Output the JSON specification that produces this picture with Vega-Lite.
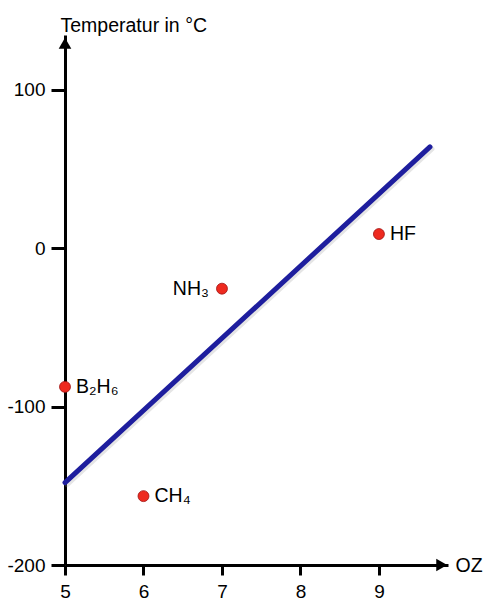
{
  "$schema": "https://vega.github.io/schema/vega-lite/v6.json",
  "width": 383,
  "height": 530,
  "autosize": "none",
  "padding": {"left": 65, "top": 35, "right": 52, "bottom": 42},
  "config": {
    "font": "Liberation Sans",
    "view": {"stroke": null},
    "axis": {"grid": false}
  },
  "datasets": {
    "points": [
      {"x": 5, "y": -87.5, "label": "B₂H₆", "side": "right"},
      {"x": 6, "y": -156.5, "label": "CH₄", "side": "right"},
      {"x": 7, "y": -25.5, "label": "NH₃", "side": "left"},
      {"x": 9, "y": 9, "label": "HF", "side": "right"}
    ],
    "trend": [
      {"x": 5, "y": -148},
      {"x": 9.65, "y": 64}
    ],
    "arrowX": [{"x": 9.8, "y": -200}],
    "arrowY": [{"x": 5, "y": 129.5}]
  },
  "encoding": {
    "x": {
      "field": "x",
      "type": "quantitative",
      "scale": {"domain": [5, 9.88], "nice": false, "zero": false},
      "axis": {
        "values": [5, 6, 7, 8, 9],
        "labelExpr": "toString(datum.value)",
        "labelFlush": false,
        "title": "OZ",
        "titleFontSize": 19.5,
        "titleFontWeight": "normal",
        "titleColor": "#000",
        "titleAlign": "left",
        "titleBaseline": "middle",
        "titleX": 390,
        "titleY": 0,
        "domainColor": "#000",
        "domainWidth": 3,
        "tickColor": "#000",
        "tickWidth": 3,
        "tickSize": 10,
        "labelFontSize": 19,
        "labelColor": "#000",
        "labelPadding": 7
      }
    },
    "y": {
      "field": "y",
      "type": "quantitative",
      "scale": {"domain": [-200, 134.7], "nice": false, "zero": false},
      "axis": {
        "values": [100, 0, -100, -200],
        "labelExpr": "toString(datum.value)",
        "labelFlush": false,
        "title": "Temperatur in °C",
        "titleFontSize": 19.5,
        "titleFontWeight": "normal",
        "titleColor": "#000",
        "titleAngle": 0,
        "titleAlign": "left",
        "titleBaseline": "alphabetic",
        "titleX": -5,
        "titleY": -4,
        "domainColor": "#000",
        "domainWidth": 3,
        "tickColor": "#000",
        "tickWidth": 3,
        "tickSize": 14,
        "labelFontSize": 19,
        "labelColor": "#000",
        "labelPadding": 6
      }
    }
  },
  "layer": [
    {
      "data": {"name": "arrowX"},
      "mark": {"type": "point", "shape": "triangle-right", "filled": true, "color": "#000", "size": 160, "opacity": 1}
    },
    {
      "data": {"name": "arrowY"},
      "mark": {"type": "point", "shape": "triangle-up", "filled": true, "color": "#000", "size": 160, "opacity": 1}
    },
    {
      "data": {"name": "trend"},
      "mark": {"type": "line", "color": "#999", "strokeWidth": 5, "opacity": 0.25, "xOffset": 2, "yOffset": 2, "strokeCap": "round"}
    },
    {
      "data": {"name": "trend"},
      "mark": {"type": "line", "color": "#1e1e9e", "strokeWidth": 5, "strokeCap": "round"}
    },
    {
      "data": {"name": "points"},
      "mark": {"type": "point", "shape": "circle", "filled": true, "fill": "#ee2a1f", "stroke": "#a01010", "strokeWidth": 0.8, "size": 120, "opacity": 1}
    },
    {
      "data": {"name": "points"},
      "transform": [{"filter": "datum.side == 'right'"}],
      "mark": {"type": "text", "align": "left", "baseline": "middle", "dx": 11, "fontSize": 19.5, "color": "#000"},
      "encoding": {"text": {"field": "label"}}
    },
    {
      "data": {"name": "points"},
      "transform": [{"filter": "datum.side == 'left'"}],
      "mark": {"type": "text", "align": "right", "baseline": "middle", "dx": -13, "fontSize": 19.5, "color": "#000"},
      "encoding": {"text": {"field": "label"}}
    }
  ]
}
